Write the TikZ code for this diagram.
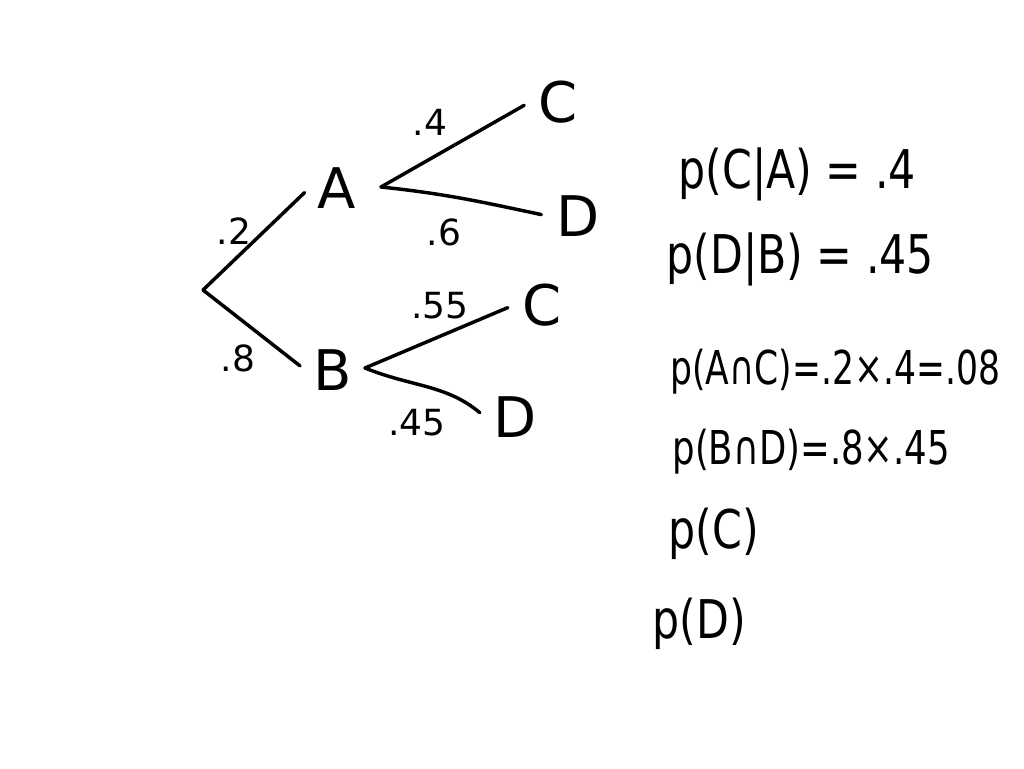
\documentclass[tikz,border=0pt]{standalone}
\usepackage{fontspec}
\usepackage{graphicx}
\setmainfont{DejaVu Sans}
\newcommand{\handw}[2][0.8]{\scalebox{#1}[1]{#2}}
\tikzset{every picture/.style={line width=0.75pt}}
\tikzset{
  event/.style={font=\fontsize{42}{46}\selectfont, inner sep=6pt},
  prob/.style={font=\fontsize{27}{30}\selectfont, inner sep=1pt},
  branch/.style={line width=2.6, line cap=round, shorten >=5pt},
  work/.style={font=\fontsize{40}{44}\selectfont, anchor=base west, inner sep=0pt},
  worksmall/.style={work, font=\fontsize{35}{40}\selectfont},
}

\begin{document}
\begin{tikzpicture}[x=0.75pt,y=0.75pt,yscale=-1,xscale=1]
	\useasboundingbox (0,0) rectangle (1024,768); %page is 1024 x 768

	% Tree nodes
	\coordinate (root) at (203,290);
	\node[event] (A) at (337,188) {A};
	\node[event] (B) at (333,370) {B};
	\node[event] (AC) at (558,102) {C};
	\node[event] (AD) at (578,216) {D};
	\node[event] (BC) at (542,305) {C};
	\node[event] (BD) at (515,417) {D};
	\coordinate (Aout) at (381,187);
	\coordinate (Bout) at (365,368);

	%Straight Lines
	\draw[branch] (root) -- (A.west);
	\draw[branch] (root) -- (B.west);
	\draw[branch] (Aout) -- (AC.west);
	\draw[branch] (Aout) to[out=6,in=-168] (AD.west);
	\draw[branch] (Bout) -- (BC.west);
	\draw[branch] (Bout) to[out=22,in=-140] (BD.west);

	% Branch probabilities
	\node[prob] (pA) at (234,231) {.2};
	\node[prob] (pB) at (238,358) {.8};
	\node[prob] (pAC) at (430,122) {.4};
	\node[prob] (pAD) at (444,232) {.6};
	\node[prob] (pBC) at (440,306) {.55};
	\node[prob] (pBD) at (417,423) {.45};

	% Text Node
	\node[work] (cA) at (678,188) {\handw{p(C|A) = .4}};
	\node[work] (dB) at (666,273) {\handw{p(D|B) = .45}};
	\node[worksmall] (AnC) at (670,384) {\handw[0.74]{p(A∩C)=.2×.4=.08}};
	\node[worksmall] (BnD) at (672,464) {\handw[0.76]{p(B∩D)=.8×.45}};
	\node[work] (pC) at (668,548) {\handw{p(C)}};
	\node[work] (pD) at (652,638) {\handw{p(D)}};

\end{tikzpicture}
\end{document}
